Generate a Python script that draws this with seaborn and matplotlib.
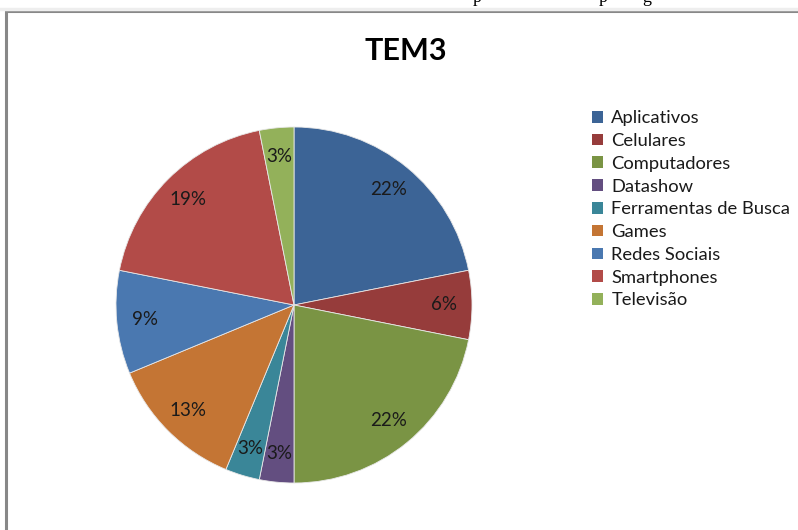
import matplotlib
matplotlib.use("Agg")
import matplotlib.pyplot as plt
import seaborn as sns
from matplotlib.lines import Line2D
from matplotlib.patches import Patch

# dados do grafico TEM3 (contagens, total 32)
categorias = ['Aplicativos', 'Celulares', 'Computadores', 'Datashow',
              'Ferramentas de Busca', 'Games', 'Redes Sociais',
              'Smartphones', 'Televisão']
valores = [7, 2, 7, 1, 1, 4, 3, 6, 1]
cores = ['#3C6496', '#963C3B', '#7A9444', '#634E80', '#3A8698',
         '#C47534', '#4A78B0', '#B24B48', '#93B15A']

sns.set_theme(style="white")
plt.rcParams['font.family'] = ['Lato', 'DejaVu Sans']
paleta = sns.color_palette(cores)

W, H = 798, 530
fig = plt.figure(figsize=(W / 100, H / 100), dpi=100)

# pizza: centro (294, 305) px, raio 178 px
cx, cy, r = 294, 305, 178
ax = fig.add_axes([(cx - r) / W, (H - cy - r) / H, 2 * r / W, 2 * r / H])
wedges, textos, pcts = ax.pie(valores, colors=paleta, startangle=90,
                              counterclock=False,
                              autopct=lambda p: f'{int(p + 0.5)}%',
                              pctdistance=0.84,
                              wedgeprops=dict(edgecolor='#e8e8e8', linewidth=0.6),
                              textprops=dict(fontsize=13.5, color='#1a1a1a'))
ax.set_xlim(-1, 1)
ax.set_ylim(-1, 1)

fig.text(406 / W, 1 - 51 / H, 'TEM3', ha='center', va='center',
         fontsize=22, fontweight='bold', color='black')

# legenda
handles = [Patch(facecolor=c, edgecolor='none') for c in paleta]
fig.legend(handles, categorias, loc='upper left',
           bbox_to_anchor=(583 / W, 1 - 101 / H), frameon=False,
           fontsize=13.2, handlelength=0.6, handleheight=0.6,
           handletextpad=0.45, labelspacing=0.37, borderpad=0,
           labelcolor='#1a1a1a')

# moldura cinza do grafico
fig.add_artist(Line2D([6 / W, 1], [1 - 11 / H, 1 - 11 / H], color='#888888', lw=2.2))
fig.add_artist(Line2D([6 / W, 6 / W], [0, 1 - 11 / H], color='#888888', lw=2.2))
fig.add_artist(Line2D([0, 1], [1 - 8.5 / H, 1 - 8.5 / H], color='#eeeeee', lw=2.5))

# restos da linha de texto cortada no topo (como na imagem original)
for x, s in [(477, 'p'), (603, 'p'), (647, 'g')]:
    fig.text(x / W, 1 - 1.5 / H, s, ha='center', va='baseline',
             fontsize=13, family='Liberation Serif', color='black')

fig.savefig('out.png', dpi=100, facecolor='white')
